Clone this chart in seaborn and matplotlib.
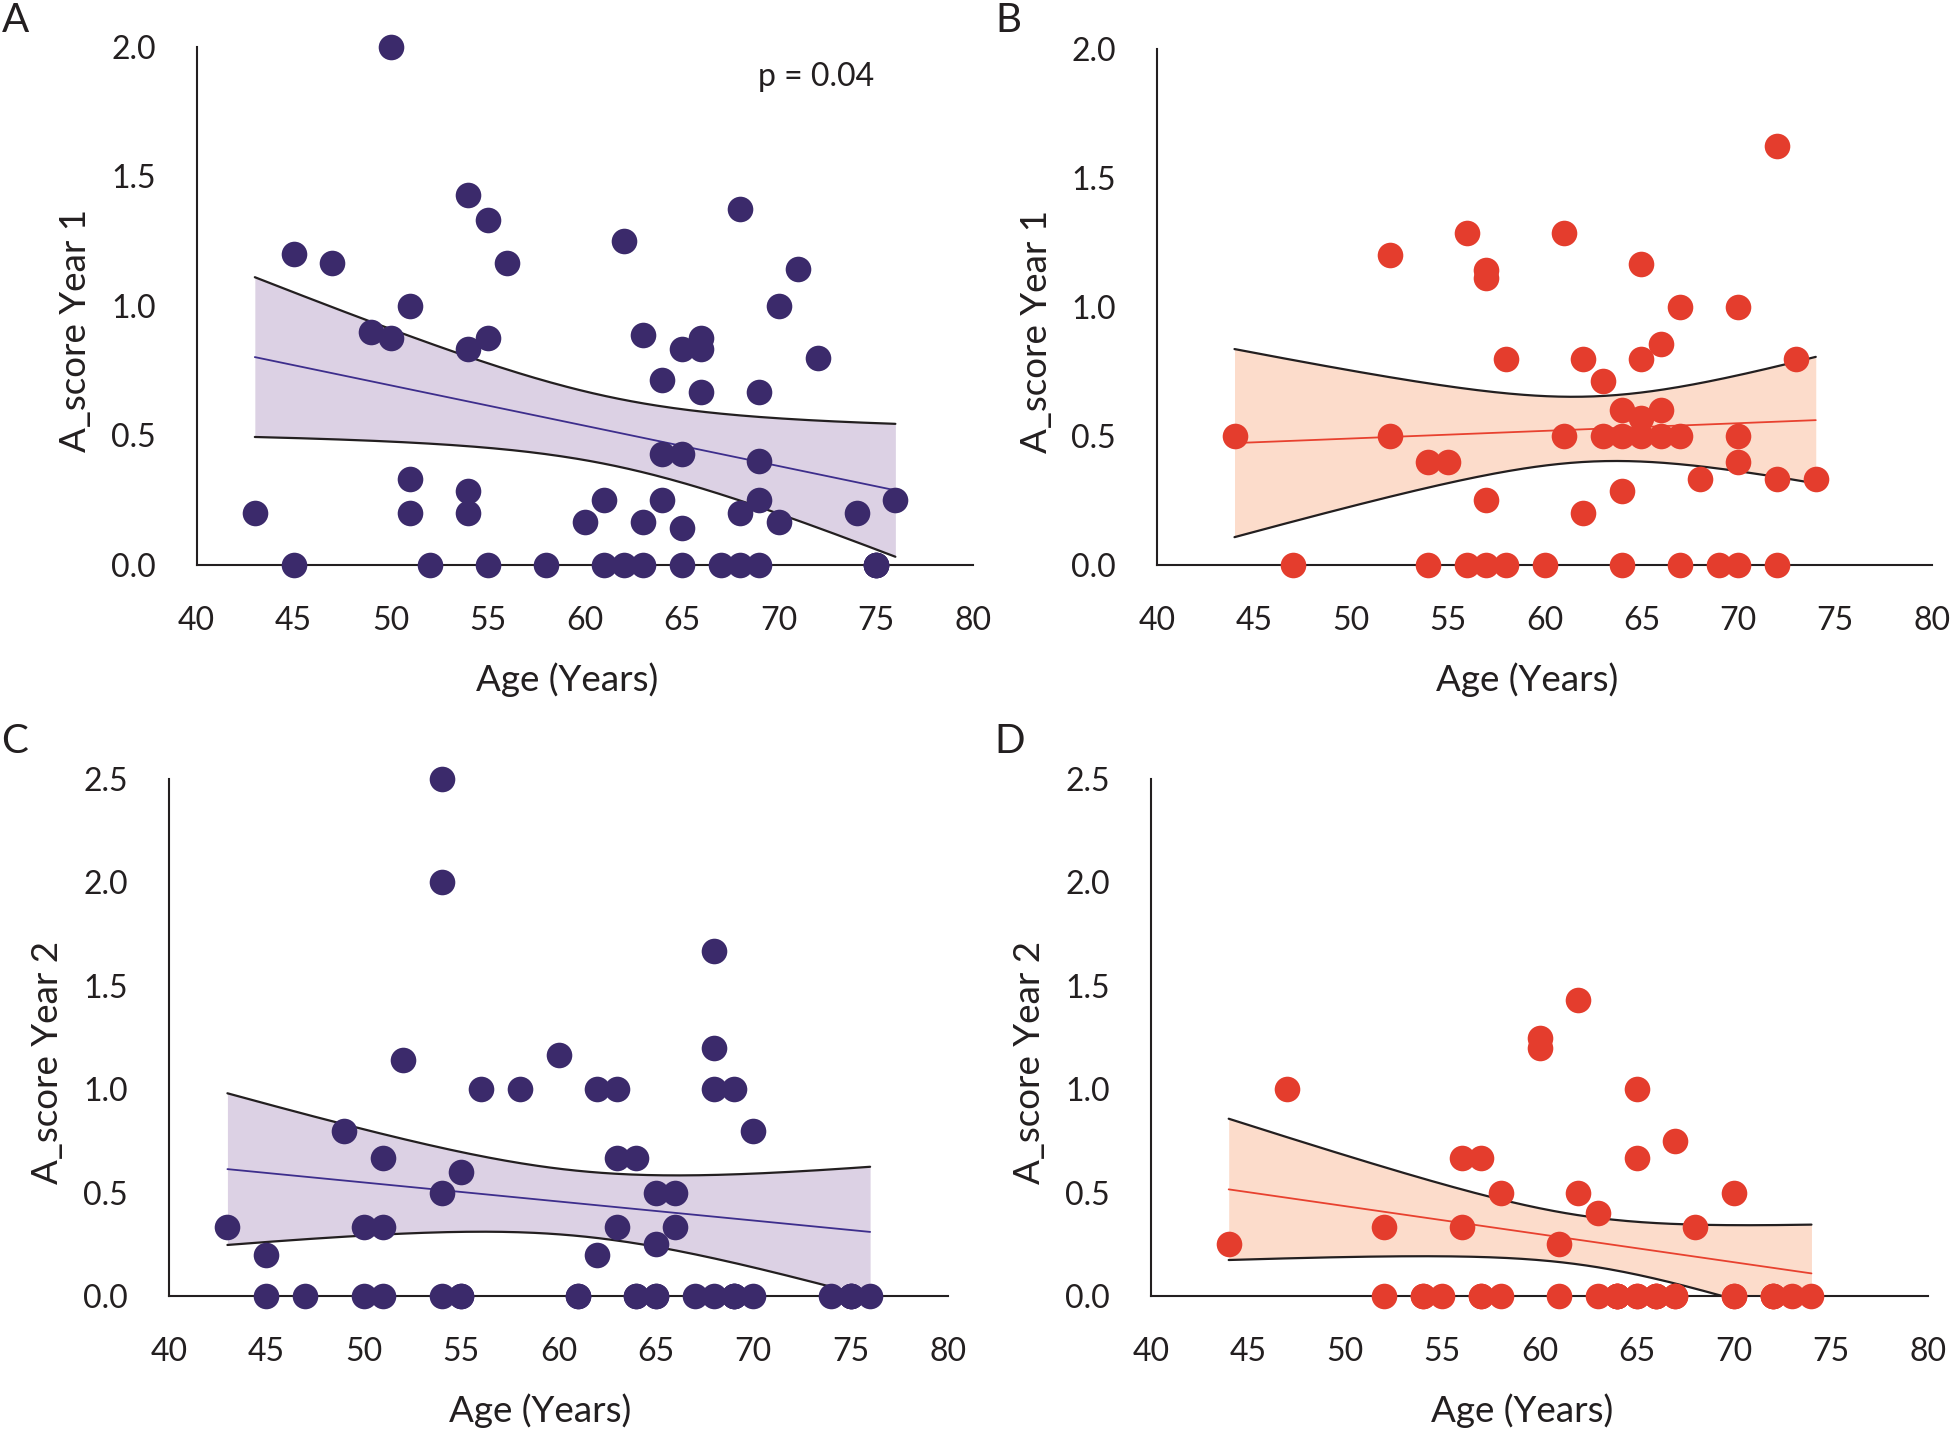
import numpy as np
import pandas as pd
import seaborn as sns
import matplotlib.pyplot as plt

# panel A: A_score year 1, group 1 (repeated ages with the same score sit on top of each other)
age_a = [43, 45, 45, 47, 49, 50, 50, 51, 51, 51, 52, 54, 54, 54, 54, 55, 55, 55, 56, 58,
         60, 61, 61, 62, 62, 63, 63, 63, 64, 64, 64, 65, 65, 65, 65, 66, 66, 66, 67,
         68, 68, 68, 69, 69, 69, 69, 70, 70, 71, 72, 74, 75, 75, 75, 76]
score_a = [0.2, 1.2, 0, 1.167, 0.9, 2.0, 0.875, 1.0, 0.333, 0.2, 0, 1.43, 0.833, 0.286, 0.2,
           1.333, 0.875, 0, 1.167, 0,
           0.167, 0.25, 0, 1.25, 0, 0.889, 0.167, 0, 0.714, 0.429, 0.25, 0.833, 0.429, 0.143, 0,
           0.875, 0.833, 0.667, 0,
           1.375, 0.2, 0, 0.667, 0.4, 0.25, 0, 1.0, 0.167, 1.143, 0.8, 0.2, 0, 0, 0, 0.25]

# panel B: A_score year 1, group 2
age_b = [44, 47, 52, 52, 54, 54, 55, 56, 56, 57, 57, 57, 57, 58, 58, 60, 61, 61, 62, 62,
         63, 63, 64, 64, 64, 64, 65, 65, 65, 65, 66, 66, 66, 67, 67, 67, 68, 69,
         70, 70, 70, 70, 72, 72, 72, 73, 74]
score_b = [0.5, 0, 1.2, 0.5, 0.4, 0, 0.4, 1.286, 0, 1.143, 1.111, 0.25, 0, 0.8, 0, 0, 1.286, 0.5,
           0.8, 0.2, 0.714, 0.5, 0.6, 0.5, 0.286, 0, 1.167, 0.8, 0.571, 0.5, 0.857, 0.6, 0.5,
           1.0, 0.5, 0, 0.333, 0, 1.0, 0.5, 0.4, 0, 1.625, 0.333, 0, 0.8, 0.333]

# panel C: A_score year 2, group 1
age_c = [43, 45, 45, 47, 49, 50, 50, 51, 51, 51, 52, 54, 54, 54, 54, 55, 55, 55, 56, 58, 60,
         61, 61, 62, 62, 63, 63, 63, 64, 64, 64, 65, 65, 65, 65, 66, 66, 67, 68, 68, 68, 68,
         69, 69, 69, 69, 70, 70, 74, 75, 75, 75, 76]
score_c = [0.333, 0.2, 0, 0, 0.8, 0.333, 0, 0.667, 0.333, 0, 1.143, 2.5, 2.0, 0.5, 0, 0.6, 0, 0,
           1.0, 1.0, 1.167, 0, 0, 1.0, 0.2, 1.0, 0.667, 0.333, 0.667, 0, 0, 0.5, 0.25, 0, 0,
           0.5, 0.333, 0, 1.667, 1.2, 1.0, 0, 1.0, 0, 0, 0, 0.8, 0, 0, 0, 0, 0, 0]

# panel D: A_score year 2, group 2
age_d = [44, 47, 52, 52, 54, 54, 55, 56, 56, 57, 57, 57, 58, 58, 60, 60, 61, 61, 62, 62,
         63, 63, 64, 64, 64, 64, 65, 65, 65, 65, 66, 66, 66, 67, 67, 67, 68,
         70, 70, 70, 72, 72, 72, 73, 74]
score_d = [0.25, 1.0, 0.333, 0, 0, 0, 0, 0.667, 0.333, 0.667, 0, 0, 0.5, 0, 1.25, 1.2, 0.25, 0,
           1.429, 0.5, 0.4, 0, 0, 0, 0, 0, 1.0, 0.667, 0, 0, 0, 0, 0, 0.75, 0, 0, 0.333,
           0.5, 0, 0, 0, 0, 0, 0, 0]

panel_letters = ["A", "B", "C", "D"]
y_titles = ["A_score Year 1", "A_score Year 1", "A_score Year 2", "A_score Year 2"]
x_title = "Age (Years)"
p_text = "p = 0.04"

purple = "#3b2a6b"
purple_line = "#3d2e8c"
purple_fill = "#dcd1e4"
red = "#e43d2d"
red_line = "#e8412f"
red_fill = "#fcdccb"
ink = "#231f20"

sns.set_style("white")
plt.rcParams["font.family"] = ["Lato", "DejaVu Sans"]


def t95(df):
    z = 1.959964
    return z + (z**3 + z) / (4 * df) + (5 * z**5 + 16 * z**3 + 3 * z) / (96 * df**2)


def panel(ax, ages, scores, ytop, dot, line, fill, ytitle):
    df = pd.DataFrame({"age": ages, "score": scores})
    sns.regplot(data=df, x="age", y="score", ax=ax, ci=None, truncate=True,
                scatter_kws={"s": 340, "color": dot, "alpha": 1, "linewidths": 0,
                             "clip_on": False, "zorder": 4},
                line_kws={"color": line, "lw": 1.3, "zorder": 3})
    # 95% confidence band of the linear fit
    x = df["age"].to_numpy(float)
    y = df["score"].to_numpy(float)
    n = len(x)
    b, a = np.polyfit(x, y, 1)
    resid = y - (a + b * x)
    s = np.sqrt(np.sum(resid**2) / (n - 2))
    sxx = np.sum((x - x.mean())**2)
    grid = np.linspace(x.min(), x.max(), 200)
    fit = a + b * grid
    half = t95(n - 2) * s * np.sqrt(1 / n + (grid - x.mean())**2 / sxx)
    ax.fill_between(grid, fit - half, fit + half, color=fill, lw=0, zorder=1)
    ax.plot(grid, fit - half, color=ink, lw=1.6, zorder=2)
    ax.plot(grid, fit + half, color=ink, lw=1.6, zorder=2)

    ax.set_xlim(40, 80)
    ax.set_ylim(0, ytop)
    ax.set_xticks(np.arange(40, 81, 5))
    yt = np.arange(0, ytop + 0.01, 0.5)
    ax.set_yticks(yt)
    ax.set_yticklabels([f"{v:.1f}" for v in yt])
    for side in ["top", "right"]:
        ax.spines[side].set_visible(False)
    for side in ["left", "bottom"]:
        ax.spines[side].set_color(ink)
        ax.spines[side].set_linewidth(1.5)
    ax.tick_params(axis="both", direction="out", length=14.5, width=1.5, color=ink,
                   labelsize=23, labelcolor=ink, pad=15)
    ax.set_xlabel(x_title, fontsize=26.5, color=ink)
    ax.set_ylabel(ytitle, fontsize=26.5, color=ink)
    ax.xaxis.set_label_coords(0.477, -0.222)
    ax.yaxis.set_label_coords(-0.156, 0.452)
    ax.xaxis.label.set_va("center")
    ax.yaxis.label.set_va("center")


W, H = 1951, 1434
fig = plt.figure(figsize=(W / 100, H / 100), dpi=100)

# axes boxes in pixels: (x at 40, x at 80, y at top value, y at 0)
boxes = [(196.6, 973, 47, 565), (1157, 1932, 49, 565),
         (169, 948, 779, 1296), (1151, 1928, 779, 1296)]
datasets = [(age_a, score_a, 2.0, purple, purple_line, purple_fill),
            (age_b, score_b, 2.0, red, red_line, red_fill),
            (age_c, score_c, 2.5, purple, purple_line, purple_fill),
            (age_d, score_d, 2.5, red, red_line, red_fill)]
letter_pos = [(16, 21), (1008, 21), (15, 741), (1010, 741)]

axes = []
for box, data, ytitle, letter, lp in zip(boxes, datasets, y_titles, panel_letters, letter_pos):
    x0, x1, yt, yb = box
    ax = fig.add_axes([x0 / W, 1 - yb / H, (x1 - x0) / W, (yb - yt) / H])
    panel(ax, *data, ytitle)
    fig.text(lp[0] / W, 1 - lp[1] / H, letter, fontsize=29, color=ink,
             ha="center", va="center")
    axes.append(ax)

axes[0].text(71.9, 1.885, p_text, fontsize=23, color=ink, ha="center", va="center")

fig.savefig("out.png", dpi=100)
